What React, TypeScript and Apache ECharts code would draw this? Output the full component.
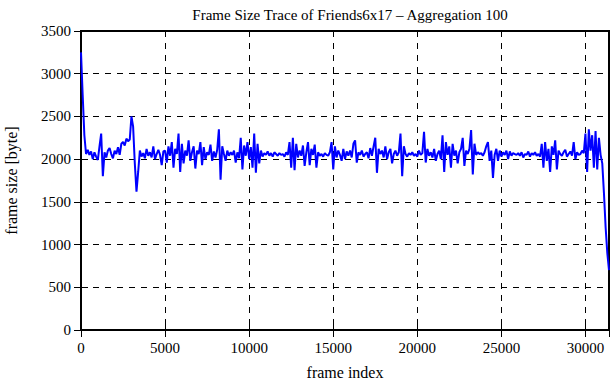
import React, { useEffect, useRef } from "react";
import * as echarts from "echarts";

const xStep = 100;
const xMax = 31400;
const xTicks = [0, 5000, 10000, 15000, 20000, 25000, 30000];
const yTicks = [0, 500, 1000, 1500, 2000, 2500, 3000, 3500];

const frameSizes: number[] = [
  3250, 2750, 2280, 2060, 2110, 2050, 2090, 2000, 2080, 2030,
  1990, 2150, 2300, 1800, 2080, 2020, 2100, 2130, 2060, 2010,
  2100, 2060, 2140, 2050, 2180, 2200, 2160, 2240, 2210, 2230,
  2500, 2380, 1950, 1620, 1850, 2100, 2030, 2070, 2010, 2120,
  2040, 2080, 2020, 2150, 2000, 2060, 2110, 2050, 1930, 2090,
  2100, 1960, 2150, 2040, 2200, 1900, 2120, 2060, 2300, 1850,
  2180, 1950, 2100, 2040, 2220, 1980, 2080, 2150, 1890, 2100,
  2060, 2200, 1930, 2140, 2000, 2080, 2050, 2170, 1980, 2090,
  2020, 2110, 2350, 1760, 2150, 2060, 1980, 2100, 2040, 2080,
  2050, 2100, 1960, 2080, 2010, 2250, 1880, 2160, 2040, 2200,
  2000, 2140, 1900, 2300, 1840, 2180, 1950, 2100, 2030, 2070,
  2050, 2090, 2040, 2070, 2030, 2080, 2060, 2040, 2070, 2050,
  2060, 2030, 2080, 2050, 2200, 1900, 2250, 1870, 2180, 2020,
  2100, 2040, 2160, 1920, 2080, 2200, 1930, 2120, 2050, 2170,
  1900, 2080, 2040, 2060, 2030, 2070, 2050, 2040, 2080, 2200,
  1880, 2150, 2020, 2100, 2050, 1980, 2120, 2000, 2090, 2040,
  2100, 2020, 2180, 2220, 1960, 2080, 2050, 2100, 2030, 2060,
  2080, 2010, 2130, 2040, 2150, 2250, 1840, 2120, 2060, 2100,
  2020, 2150, 2000, 2080, 2120, 1950, 2060, 2100, 2040, 2080,
  2300, 1800, 2150, 2060, 2030, 2070, 2050, 2080, 2040, 2060,
  2030, 2100, 2050, 2070, 2320, 1960, 2120, 2040, 2080, 2020,
  2120, 1980, 2060, 2100, 2000, 2280, 1850, 2200, 2050, 2150,
  1900, 2180, 2040, 2100, 1950, 2080, 2120, 2250, 1920, 2100,
  2060, 2120, 2340, 1820, 2180, 2050, 2080, 2060, 2070, 2040,
  2080, 2150, 2200, 1980, 2100, 1780, 2050, 2120, 1980, 2100,
  2030, 2080, 2050, 2100, 2000, 2090, 2040, 2070, 2060, 2050,
  2070, 2040, 2080, 2020, 2060, 2050, 2090, 2030, 2070, 2050,
  2080, 2040, 2060, 2030, 2180, 1900, 2200, 1980, 2120, 1850,
  2150, 2050, 2220, 1880, 2100, 2060, 2040, 2080, 2110, 2030,
  2060, 2090, 2040, 2200, 2000, 2080, 2050, 2060, 2100, 2070,
  2300, 1850, 2350, 2100, 2280, 1900, 2330, 1880, 2250, 2050,
  1950, 1600, 1200, 900, 700,
];

const FONT = "Liberation Serif";

export default function App() {
  const ref = useRef<HTMLDivElement>(null);
  useEffect(() => {
    if (!ref.current) return;
    const chart = echarts.init(ref.current, undefined, { renderer: "svg" });
    const data = frameSizes.map((v, i) => [i * xStep, v]);
    const tickFmt = (v: number, list: number[]) =>
      list.includes(v) ? String(v) : "";
    const dashed = { show: true, lineStyle: { color: "#000", type: [6, 6] as any, width: 1 } };
    chart.setOption({
      animation: false,
      backgroundColor: "#fff",
      title: {
        text: "Frame Size Trace of Friends6x17 \u2013 Aggregation 100",
        left: 345,
        textAlign: "center",
        top: 2,
        textStyle: { fontFamily: FONT, fontSize: 15, fontWeight: "normal", color: "#000" },
      },
      grid: {
        left: 81,
        right: 2,
        top: 31,
        bottom: 50,
        show: true,
        borderColor: "#000",
        borderWidth: 2,
        containLabel: false,
        outerBoundsMode: "none",
      },
      xAxis: [
        {
          type: "value",
          min: 0,
          max: xMax,
          interval: 5000,
          name: "frame index",
          nameLocation: "middle",
          nameGap: 34,
          nameTextStyle: { fontFamily: FONT, fontSize: 16, color: "#000" },
          axisLine: { show: false },
          axisTick: { show: true, inside: true, length: 7, lineStyle: { color: "#000", width: 1 } },
          axisLabel: {
            fontFamily: FONT,
            fontSize: 15,
            color: "#000",
            margin: 10,
            showMaxLabel: false,
            formatter: (v: number) => tickFmt(v, xTicks),
          },
          splitLine: dashed,
        },
        {
          type: "value",
          position: "top",
          min: 0,
          max: xMax,
          interval: 5000,
          axisLine: { show: false },
          axisTick: { show: true, inside: true, length: 7, lineStyle: { color: "#000", width: 1 } },
          axisLabel: { show: false },
          splitLine: { show: false },
        },
      ],
      yAxis: [
        {
          type: "value",
          min: 0,
          max: 3500,
          interval: 500,
          name: "frame size [byte]",
          nameLocation: "middle",
          nameGap: 62,
          nameTextStyle: { fontFamily: FONT, fontSize: 16, color: "#000" },
          axisLine: { show: false },
          axisTick: { show: true, inside: true, length: 7, lineStyle: { color: "#000", width: 1 } },
          axisLabel: {
            fontFamily: FONT,
            fontSize: 15,
            color: "#000",
            margin: 10,
            formatter: (v: number) => tickFmt(v, yTicks),
          },
          splitLine: dashed,
        },
        {
          type: "value",
          position: "right",
          min: 0,
          max: 3500,
          interval: 500,
          axisLine: { show: false },
          axisTick: { show: true, inside: true, length: 7, lineStyle: { color: "#000", width: 1 } },
          axisLabel: { show: false },
          splitLine: { show: false },
        },
      ],
      series: [
        {
          type: "line",
          data,
          xAxisIndex: 0,
          yAxisIndex: 0,
          showSymbol: false,
          symbol: "none",
          lineStyle: { color: "#0000ff", width: 2 },
          z: 3,
        },
      ],
    });
    return () => chart.dispose();
  }, []);
  return <div ref={ref} style={{ width: 611, height: 380, position: "absolute", left: 0, top: 0 }} />;
}
